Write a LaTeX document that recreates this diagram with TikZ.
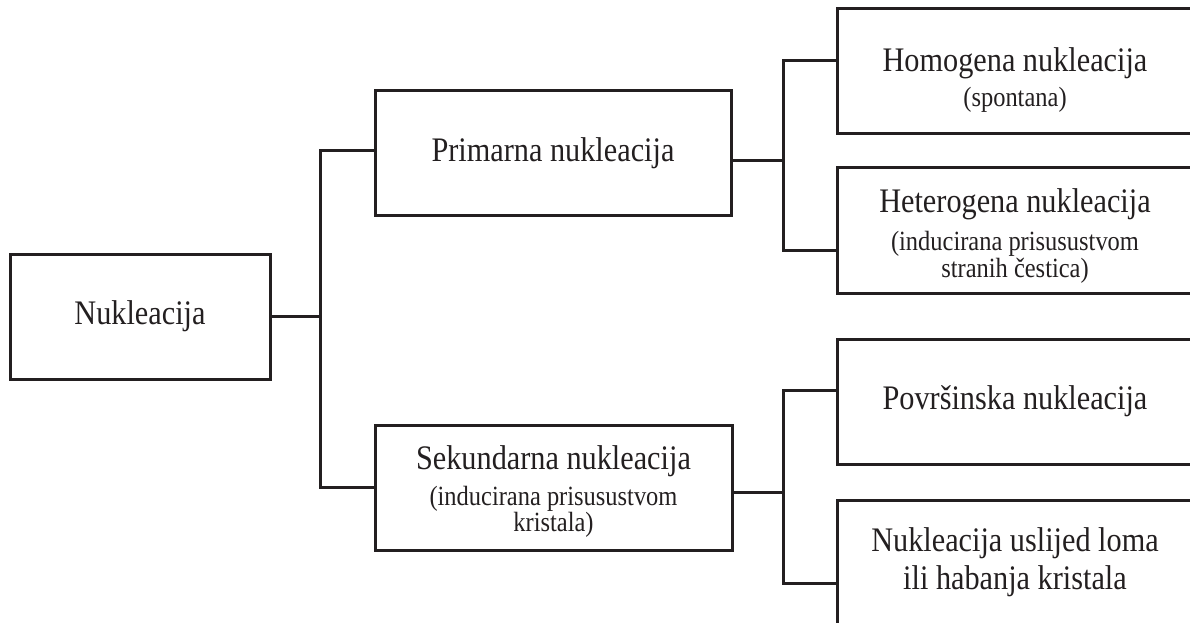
\documentclass[tikz,border=0pt]{standalone}
\usepackage{fontspec}
\setmainfont{Liberation Serif}[FakeStretch=0.88]
\definecolor{ink}{RGB}{35,31,32}
\newcommand\bigtxt{\fontsize{34.4}{38}\selectfont}
\newcommand\smalltxt{\fontsize{27.8}{38}\selectfont}
\tikzset{
	box/.style={draw=ink, line width=3pt, minimum height=125pt, inner sep=0pt, text=ink, align=center, font=\bigtxt},
	txt/.style={text=ink, align=center, font=\bigtxt, inner sep=0pt},
	link/.style={draw=ink, line width=3pt}
}

\begin{document}
\begin{tikzpicture}[x=1pt, y=-1pt]
		\useasboundingbox (0, 0) rectangle (1190, 622);
		\clip (0, 0) rectangle (1190, 622);
		
		%%%%% BOXES %%%%%
		\node[box, minimum width=260pt] (nuk) at (140, 316.5) {Nukleacija};
		
		\node[box, minimum width=356pt] (prim) at (553, 153) {Primarna nukleacija};
		\node[box, minimum width=357pt] (sek) at (553.5, 487.5) {};
		\node[txt] (sektxt) at ([yshift=-4pt]sek.center) {Sekundarna nukleacija\\[-2pt]{\smalltxt (inducirana prisusustvom}\\[-12pt]{\smalltxt kristala)}};
		
		\node[box, minimum width=356pt] (homo) at (1015, 70.5) {};
		\node[txt] (homotxt) at ([yshift=-10pt]homo.center) {Homogena nukleacija\\[-3pt]{\smalltxt (spontana)}};
		\node[box, minimum width=356pt, minimum height=126pt] (hete) at (1015, 230) {};
		\node[txt] (hetetxt) at ([yshift=-6pt]hete.center) {Heterogena nukleacija\\[0pt]{\smalltxt (inducirana prisusustvom}\\[-11pt]{\smalltxt stranih čestica)}};
		
		\node[box, minimum width=356pt] (povr) at (1015, 401.5) {Površinska nukleacija};
		\node[box, minimum width=356pt] (lom) at (1015, 562.5) {Nukleacija uslijed loma\\ili habanja kristala};
		
		%%%%% LINKS %%%%%
		\coordinate (jl) at (320, 316.5);
		\draw[link, line width=2.2pt] (nuk.east) -- (jl);
		\draw[link] ([yshift=3pt]prim.west) -| (jl) |- (sek.west);
		
		\coordinate (jr1) at (783, 160);
		\draw[link] ([yshift=-7pt]prim.east) -- (jr1);
		\draw[link] ([yshift=10.5pt]homo.west) -| (jr1) |- ([yshift=-20pt]hete.west);
		
		\coordinate (jr2) at (783, 492);
		\draw[link] ([yshift=-4.5pt]sek.east) -- (jr2);
		\draw[link] ([yshift=11.5pt]povr.west) -| (jr2) |- ([yshift=-20.5pt]lom.west);
\end{tikzpicture}
\end{document}
